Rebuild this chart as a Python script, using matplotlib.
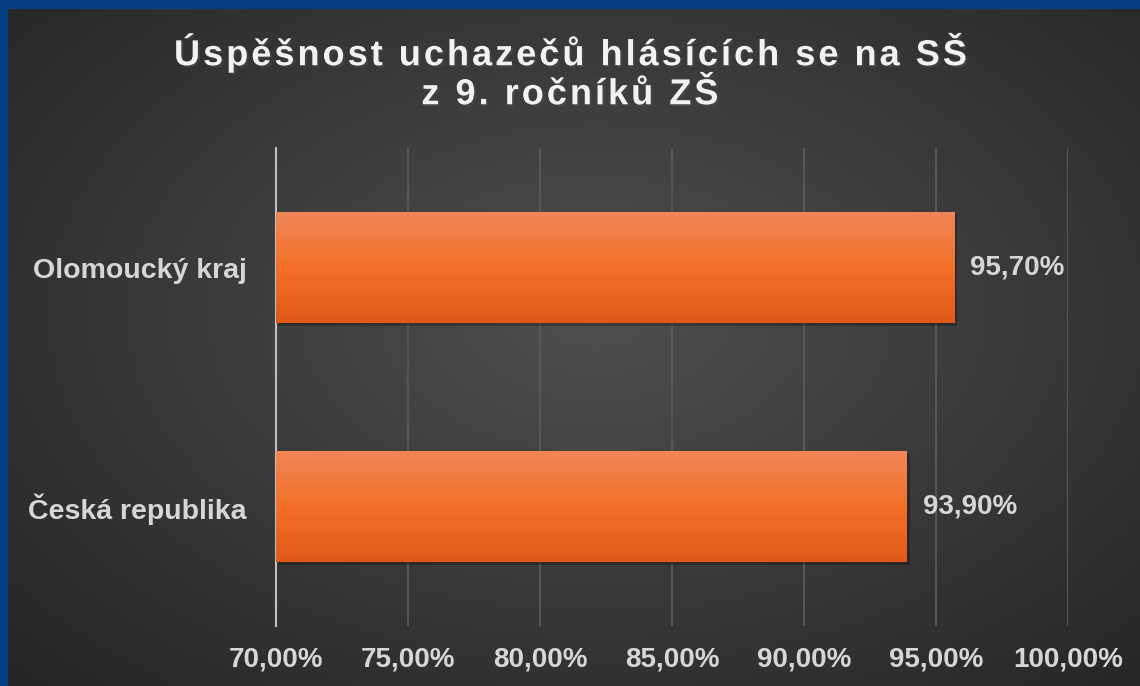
import numpy as np
import matplotlib.pyplot as plt
import matplotlib.patheffects as pe

plt.rcParams['font.family'] = ['Liberation Sans', 'DejaVu Sans']

categories = ['Česká republika', 'Olomoucký kraj']
values = [93.9, 95.7]
value_labels = ['93,90%', '95,70%']
ticks = [70, 75, 80, 85, 90, 95, 100]
tick_labels = ['70,00%', '75,00%', '80,00%', '85,00%', '90,00%', '95,00%', '100,00%']
title = 'Úspěšnost uchazečů hlásících se na SŠ\nz 9. ročníků ZŠ'

fig = plt.figure(figsize=(11.4, 6.86), dpi=100)
fig.patch.set_facecolor('#053f82')

# background with radial gradient, inside a blue frame (top & left)
bg = fig.add_axes([8 / 1140, 0, 1 - 8 / 1140, 1 - 9 / 686])
bg.set_axis_off()
yy, xx = np.mgrid[0:1:300j, 0:1:500j]
r = np.sqrt(((xx - 0.52) / 0.75) ** 2 + ((yy - 0.45) / 0.8) ** 2)
shade = np.clip(0.31 - 0.17 * r, 0.12, 0.31)
bg.imshow(np.dstack([shade] * 3), aspect='auto', extent=[0, 1, 0, 1],
          interpolation='bicubic')
bg.set_xlim(0, 1)
bg.set_ylim(0, 1)

ax = fig.add_axes([276 / 1140, 1 - 626 / 686, (1068 - 276) / 1140, (626 - 148) / 686])
ax.patch.set_alpha(0)
ax.set_xlim(70, 100)
ax.set_ylim(-0.5, 1.5)

shadow = [pe.SimplePatchShadow(offset=(2, -2), alpha=0.25, shadow_rgbFace='black'), pe.Normal()]
bars = ax.barh(range(len(categories)), [v - 70 for v in values], left=70, height=0.467,
               color='#f07030', zorder=3, path_effects=shadow)

# vertical gradient for the bars
top = np.array([0.94, 0.53, 0.35])
mid = np.array([0.95, 0.44, 0.16])
bot = np.array([0.88, 0.35, 0.10])
rows = []
for g in np.linspace(0, 1, 100):
    if g < 0.5:
        rows.append(top + (mid - top) * g / 0.5)
    else:
        rows.append(mid + (bot - mid) * (g - 0.5) / 0.5)
img = np.array(rows)[:, None, :]
for b in bars:
    x0, y0 = b.get_x(), b.get_y()
    im = ax.imshow(img, extent=[x0, x0 + b.get_width(), y0, y0 + b.get_height()],
                   aspect='auto', zorder=4, interpolation='bicubic', origin='upper')
    im.set_clip_path(b)

for i, v in enumerate(values):
    ax.text(v + 0.6, i, value_labels[i], va='center', ha='left', fontsize=20,
            fontweight='bold', color='#d6d6d6', zorder=5)

ax.set_xticks(ticks)
ax.set_xticklabels(tick_labels, fontsize=20, fontweight='bold', color='#d6d6d6')
ax.set_yticks(range(len(categories)))
ax.set_yticklabels(categories, fontsize=20.5, fontweight='bold', color='#d6d6d6')
ax.tick_params(length=0, pad=21, axis='y')
ax.tick_params(length=0, pad=15, axis='x')
ax.grid(axis='x', color='#5a5a5a', lw=1.3, zorder=0)
for s in ['top', 'right', 'bottom']:
    ax.spines[s].set_visible(False)
ax.spines['left'].set_color('#bfbfbf')
ax.spines['left'].set_linewidth(1.5)

fig.text(0.5, 1 - 72 / 686, '\u200a'.join(title).replace('\u200a\n\u200a', '\n'),
         ha='center', va='center', fontsize=26, fontweight='bold', color='#f2f2f2',
         linespacing=1.15,
         path_effects=[pe.withSimplePatchShadow(offset=(1.5, -1.5), alpha=0.6)])

fig.savefig('out.png', dpi=100, facecolor=fig.get_facecolor())
